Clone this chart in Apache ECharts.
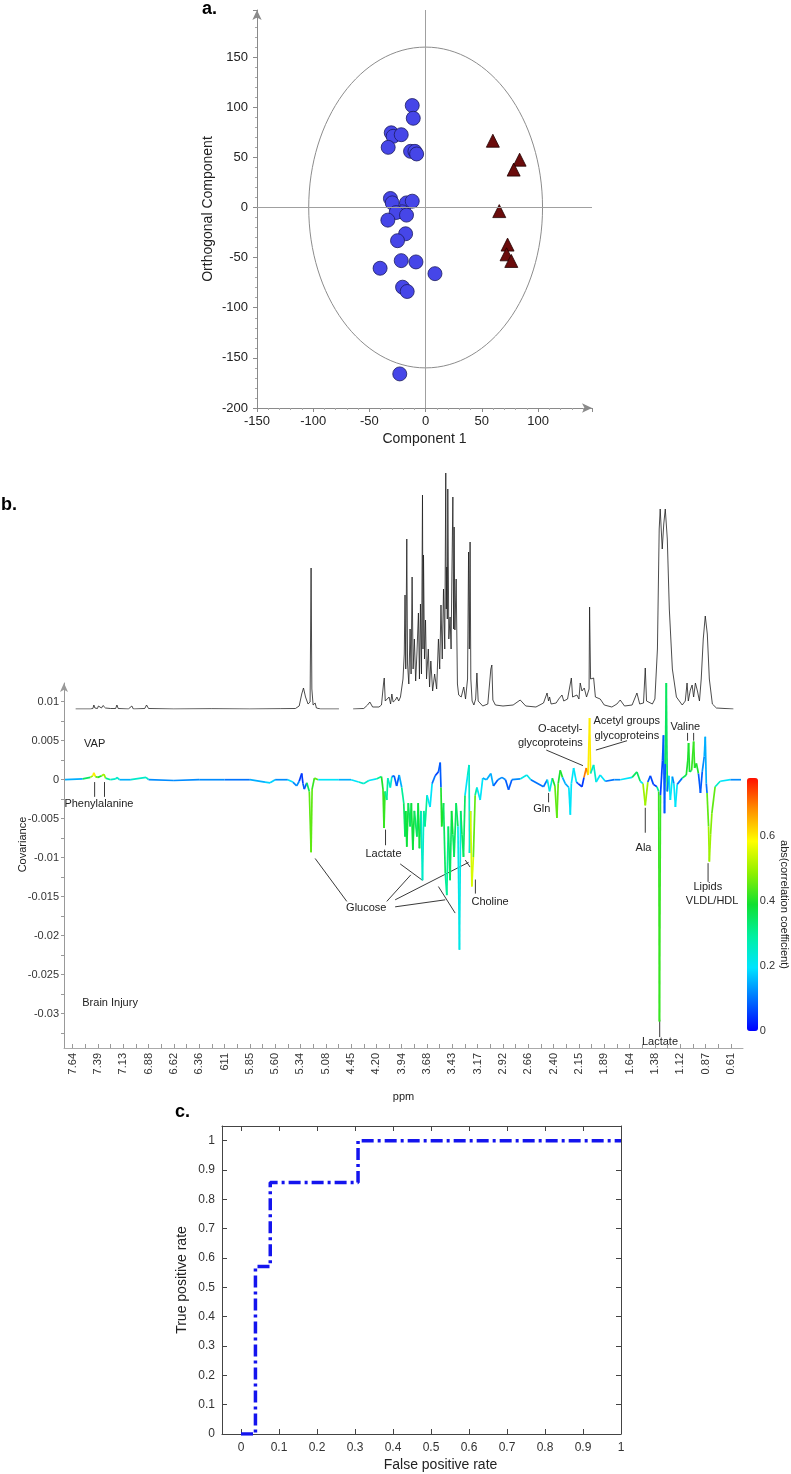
<!DOCTYPE html>
<html>
<head>
<meta charset="utf-8">
<script src="https://cdn.jsdelivr.net/npm/echarts@6/dist/echarts.min.js"></script>
<style>
  html, body { margin: 0; padding: 0; background: #fff; }
  #main { width: 791px; height: 1474px; }
</style>
</head>
<body>
<div id="main"></div>
<script>
const FONT = '"Liberation Sans", Arial, sans-serif';

// ---- a. scores plot ----
const circleScores = [
  [-11.9, 101.7], [-11, 89], [-30.6, 74.5], [-28.9, 71], [-21.7, 72.6], [-33.3, 60],
  [-13.4, 56], [-9.5, 56], [-8, 53.4], [-31.3, 9], [-29.7, 4.6], [-17, 4.6], [-11.9, 6.3],
  [-20.8, -4.3], [-26.2, -5], [-17, -7.6], [-33.6, -12.6], [-17.8, -26.2], [-25, -33.1],
  [-21.7, -53], [-8.6, -54.3], [-40.5, -60.6], [8.3, -66], [-20.5, -79.5], [-16.4, -83.8],
  [-23, -166]
];
const triangleScores = [
  [59.8, 66.6], [83.6, 47.7], [78.3, 37.8], [65.5, -3.6], [72.9, -37], [72, -46.7], [76.2, -53.3]
];
const confEllipse = [[0, 0, 104, 160]]; // centre x, centre y, radius x, radius y

// ---- b. spectrum + covariance (x = position along the ppm axis, one step per label) ----
const ppmLabels = ['7.64', '7.39', '7.13', '6.88', '6.62', '6.36', '611', '5.85', '5.60', '5.34',
  '5.08', '4.45', '4.20', '3.94', '3.68', '3.43', '3.17', '2.92', '2.66', '2.40', '2.15',
  '1.89', '1.64', '1.38', '1.12', '0.87', '0.61'];
const ppmLabelPos = [0, 1, 2, 3, 4, 5, 6, 7, 8, 9, 10, 11, 12, 13, 14, 15, 16, 17, 18, 19, 20, 21, 22, 23, 24, 25, 26];
const ppmTickPos = [0, 0.5, 1, 1.5, 2, 2.5, 3, 3.5, 4, 4.5, 5, 5.5, 6, 6.5, 7, 7.5, 8, 8.5, 9, 9.5,
  10, 10.5, 11, 11.5, 12, 12.5, 13, 13.5, 14, 14.5, 15, 15.5, 16, 16.5, 17, 17.5, 18, 18.5, 19,
  19.5, 20, 20.5, 21, 21.5, 22, 22.5, 23, 23.5, 24, 24.5, 25, 25.5, 26];
const covLabels = [0.01, 0.005, 0, -0.005, -0.01, -0.015, -0.02, -0.025, -0.03];
const covTicks = [0.01, 0.0075, 0.005, 0.0025, 0, -0.0025, -0.005, -0.0075, -0.01, -0.0125, -0.015,
  -0.0175, -0.02, -0.0225, -0.025, -0.0275, -0.03, -0.0325];
const corrLabels = [0, 0.2, 0.4, 0.6];

// mean spectrum, [position, intensity a.u.]
const nmrSpectrum = [
  [0.12, 0], [0.7, 0], [0.8, 0.5], [0.84, 4], [0.88, 1], [0.98, 0.5], [1.02, 3], [1.06, 1.5], [1.14, 1],
  [1.2, 3.5], [1.24, 4.5], [1.3, 1], [1.5, 0.5], [1.7, 0.5], [1.75, 4], [1.8, 0.5], [2.2, 0], [2.34, 3],
  [2.4, 0], [2.85, 0.5], [2.92, 4], [2.96, 5], [3.0, 0.5], [4.0, 0], [5.5, 0.3], [7.0, 0], [8.2, 0.3],
  [8.8, 0.5], [8.95, 3], [9.05, 15], [9.12, 21], [9.2, 12], [9.3, 5], [9.38, 7], [9.42, 141], [9.45, 20],
  [9.5, 4], [9.58, 6], [9.63, 1], [9.8, 0], [10.52, 0], [10.6, '-'], [11.08, 0], [11.5, 0.5], [11.65, 4],
  [11.74, 7], [11.85, 2], [12.1, 2], [12.2, 4], [12.28, 25], [12.31, 31], [12.35, 8], [12.41, 6],
  [12.5, 12], [12.56, 5], [12.61, 15], [12.66, 7], [12.75, 9], [12.81, 12], [12.88, 8], [12.95, 12],
  [13.0, 11], [13.05, 30], [13.1, 55], [13.13, 114], [13.16, 40], [13.2, 170], [13.23, 45], [13.28, 25],
  [13.33, 80], [13.37, 35], [13.41, 132], [13.45, 40], [13.5, 70], [13.55, 28], [13.6, 55], [13.66, 96],
  [13.7, 30], [13.74, 105], [13.78, 35], [13.82, 214], [13.84, 60], [13.86, 154], [13.9, 50], [13.94, 89],
  [13.98, 30], [14.05, 60], [14.1, 22], [14.15, 48], [14.22, 18], [14.3, 35], [14.38, 20], [14.45, 70],
  [14.5, 40], [14.55, 104], [14.6, 50], [14.65, 120], [14.7, 60], [14.74, 236], [14.76, 100], [14.78, 142],
  [14.8, 90], [14.82, 220], [14.86, 70], [14.91, 92], [14.95, 60], [14.98, 130], [15.02, 212], [15.05, 80],
  [15.07, 182], [15.1, 79], [15.15, 130], [15.2, 25], [15.25, 14], [15.35, 12], [15.45, 22], [15.52, 10],
  [15.6, 30], [15.64, 157], [15.67, 60], [15.7, 167], [15.73, 30], [15.78, 8], [15.85, 4], [15.92, 10],
  [15.97, 36], [16.02, 8], [16.2, 3], [16.4, 5], [16.52, 40], [16.56, 44], [16.6, 9], [16.7, 4], [17.0, 3],
  [17.4, 4], [17.68, 9], [17.9, 3], [18.3, 2], [18.6, 6], [18.74, 16], [18.8, 8], [18.84, 12], [18.9, 5],
  [19.1, 6], [19.2, 10], [19.33, 14], [19.4, 8], [19.55, 10], [19.7, 31], [19.75, 12], [19.92, 14],
  [20.0, 10], [20.05, 26], [20.12, 18], [20.21, 21], [20.3, 12], [20.4, 20], [20.42, 102], [20.46, 30],
  [20.58, 31], [20.65, 12], [20.84, 10], [21.0, 4], [21.3, 2], [21.5, 5], [21.63, 9], [21.8, 3], [22.1, 4],
  [22.29, 16], [22.4, 5], [22.55, 6], [22.62, 41], [22.67, 8], [22.9, 5], [23.0, 10], [23.1, 60],
  [23.17, 180], [23.21, 200], [23.29, 160], [23.35, 185], [23.41, 200], [23.49, 170], [23.57, 100],
  [23.69, 40], [23.85, 12], [24.08, 4], [24.2, 8], [24.27, 26], [24.32, 8], [24.4, 19], [24.47, 24],
  [24.53, 12], [24.6, 26], [24.68, 18], [24.76, 8], [24.83, 30], [24.91, 70], [24.99, 93], [25.07, 75],
  [25.15, 30], [25.27, 5], [25.43, 1], [26.1, 0]
];

// covariance, [position, covariance, abs(correlation)]
const covariance = [
  [-0.3, 0, 0.12], [0.4, 0.0001, 0.15], [0.7, 0.0003, 0.35], [0.8, 0.0005, 0.5], [0.84, 0.0009, 0.6],
  [0.9, 0.0004, 0.45], [1.0, 0.0003, 0.35], [1.15, 0.0005, 0.4], [1.24, 0.0007, 0.5], [1.3, 0.0002, 0.3],
  [1.5, 0, 0.2], [1.7, 0.0001, 0.25], [1.75, 0.0003, 0.25], [1.85, 0, 0.15], [2.3, 0, 0.12],
  [2.9, 0.0003, 0.25], [3.0, 0, 0.15], [4.0, -0.0001, 0.12], [5.0, 0, 0.12], [6.0, 0, 0.1], [7.0, 0, 0.1],
  [7.6, -0.0003, 0.15], [7.8, -0.0004, 0.18], [8.0, 0, 0.12], [8.5, 0, 0.1], [8.7, -0.0003, 0.2],
  [8.85, -0.0008, 0.12], [8.95, -0.0002, 0.08], [9.05, 0.0008, 0.05], [9.1, -0.0005, 0.05],
  [9.15, -0.0012, 0.08], [9.25, -0.0004, 0.2], [9.35, -0.0015, 0.35], [9.42, -0.0093, 0.45],
  [9.46, -0.0012, 0.42], [9.55, 0.0002, 0.45], [9.7, 0, 0.2], [10.5, 0, 0.15], [11.0, 0, 0.15],
  [11.3, -0.0003, 0.2], [11.5, -0.0005, 0.25], [11.7, -0.0001, 0.2], [12.0, 0.0001, 0.2],
  [12.2, 0.0004, 0.3], [12.26, -0.0012, 0.4], [12.3, -0.0062, 0.42], [12.34, -0.0015, 0.4],
  [12.41, -0.0026, 0.3], [12.45, 0.0002, 0.15], [12.55, -0.001, 0.25], [12.61, 0.0004, 0.2],
  [12.7, 0.0005, 0.1], [12.8, -0.0008, 0.08], [12.9, 0.0006, 0.1], [13.0, -0.001, 0.15],
  [13.08, -0.003, 0.3], [13.13, -0.0073, 0.35], [13.16, -0.004, 0.3], [13.2, -0.0086, 0.38],
  [13.26, -0.003, 0.3], [13.33, -0.006, 0.35], [13.38, -0.003, 0.3], [13.44, -0.009, 0.38],
  [13.5, -0.004, 0.3], [13.6, -0.0073, 0.35], [13.65, -0.003, 0.2], [13.7, -0.0088, 0.38],
  [13.76, -0.004, 0.25], [13.82, -0.0129, 0.25], [13.87, -0.004, 0.2], [13.92, -0.006, 0.3],
  [14.0, -0.002, 0.15], [14.12, -0.0035, 0.2], [14.2, -0.0005, 0.1], [14.32, 0.0005, 0.06],
  [14.45, 0.001, 0.06], [14.52, 0.0022, 0.08], [14.55, -0.001, 0.2], [14.58, -0.006, 0.4],
  [14.65, -0.003, 0.35], [14.72, -0.012, 0.35], [14.78, -0.0148, 0.3], [14.84, -0.006, 0.35],
  [14.91, -0.0129, 0.35], [14.97, -0.004, 0.3], [15.02, -0.007, 0.38], [15.07, -0.0099, 0.35],
  [15.15, -0.003, 0.3], [15.22, -0.006, 0.35], [15.28, -0.0218, 0.22], [15.33, -0.004, 0.3],
  [15.38, -0.007, 0.35], [15.44, -0.0099, 0.35], [15.5, -0.002, 0.2], [15.6, 0.0005, 0.15],
  [15.66, 0.0019, 0.25], [15.68, -0.0094, 0.25], [15.72, -0.004, 0.3], [15.77, -0.0137, 0.55],
  [15.83, -0.0099, 0.45], [15.9, -0.002, 0.3], [15.97, -0.001, 0.25], [16.1, -0.0026, 0.2],
  [16.2, 0.0002, 0.15], [16.35, 0, 0.15], [16.52, 0.0008, 0.15], [16.62, -0.0008, 0.08], [16.8, 0, 0.1],
  [16.96, 0.0003, 0.12], [17.1, 0, 0.1], [17.22, -0.0013, 0.08], [17.35, 0, 0.1], [17.68, 0.0001, 0.12],
  [17.94, 0.0006, 0.22], [18.1, 0, 0.12], [18.6, -0.0009, 0.1], [18.75, 0, 0.15], [18.84, -0.0015, 0.22],
  [18.95, 0.0002, 0.3], [19.05, -0.0008, 0.4], [19.13, -0.0049, 0.45], [19.18, -0.0005, 0.4],
  [19.26, 0.0012, 0.4], [19.35, 0.0003, 0.3], [19.46, -0.0005, 0.15], [19.6, -0.001, 0.15],
  [19.66, -0.0045, 0.2], [19.7, -0.0005, 0.2], [19.79, 0.0015, 0.2], [19.9, -0.0003, 0.1],
  [19.97, -0.0005, 0.08], [20.12, -0.0009, 0.05], [20.2, 0.0003, 0.4], [20.29, 0.0015, 0.7],
  [20.36, 0.0006, 0.6], [20.42, 0.0079, 0.6], [20.46, 0.0008, 0.5], [20.58, 0.0019, 0.25],
  [20.68, -0.0003, 0.1], [20.84, 0.0006, 0.2], [21.04, -0.0002, 0.1], [21.4, 0, 0.12], [21.63, 0, 0.1],
  [22.1, 0.0003, 0.2], [22.29, 0.001, 0.35], [22.42, -0.0002, 0.1], [22.53, -0.0005, 0.2],
  [22.62, -0.0033, 0.5], [22.72, -0.0003, 0.3], [22.82, 0.0005, 0.08], [22.94, -0.0006, 0.06],
  [23.08, -0.0009, 0.05], [23.15, -0.0015, 0.3], [23.18, -0.031, 0.42], [23.22, -0.002, 0.1],
  [23.3, 0.0025, 0.06], [23.34, 0.0057, 0.08], [23.38, -0.0043, 0.08], [23.41, 0.002, 0.1],
  [23.45, 0.0124, 0.35], [23.49, -0.0015, 0.1], [23.55, 0.0005, 0.12], [23.61, -0.0026, 0.2],
  [23.69, 0.0004, 0.1], [23.75, -0.0005, 0.12], [23.81, -0.0035, 0.2], [23.88, -0.0006, 0.1],
  [24.08, 0.0002, 0.2], [24.24, 0.0006, 0.35], [24.3, 0.0025, 0.4], [24.33, 0.0047, 0.4],
  [24.37, 0.001, 0.3], [24.45, 0.0012, 0.35], [24.53, 0.0049, 0.42], [24.57, 0.0015, 0.4],
  [24.64, 0.0021, 0.4], [24.72, 0.0008, 0.2], [24.8, -0.0017, 0.08], [24.87, 0.001, 0.08],
  [24.95, 0.003, 0.12], [24.99, 0.0055, 0.15], [25.03, -0.0005, 0.1], [25.06, -0.0017, 0.1],
  [25.12, -0.006, 0.45], [25.15, -0.0105, 0.5], [25.2, -0.007, 0.48], [25.25, -0.0043, 0.45],
  [25.38, -0.0009, 0.25], [25.58, -0.0002, 0.2], [25.98, 0, 0.12], [26.4, 0, 0.12]
];

// annotations of panel b, [position, covariance, text]
const peakLabels = [
  [0.87, 0.0046, 'VAP'], [1.48, -0.0286, 'Brain Injury'], [1.04, -0.0031, 'Phenylalanine'],
  [19.26, 0.0065, 'O-acetyl-'], [18.87, 0.0047, 'glycoproteins'],
  [21.89, 0.0075, 'Acetyl groups'], [21.89, 0.0056, 'glycoproteins'],
  [24.2, 0.0068, 'Valine'], [18.53, -0.0038, 'Gln'], [22.55, -0.0088, 'Ala'],
  [25.09, -0.0137, 'Lipids'], [25.26, -0.0156, 'VLDL/HDL'], [23.2, -0.0336, 'Lactate'],
  [12.28, -0.0095, 'Lactate'], [11.6, -0.0165, 'Glucose'], [16.49, -0.0157, 'Choline']
];
const leaderLines = [
  [0.87, -0.0003, 0.87, -0.0022], [1.26, -0.0003, 1.26, -0.0022],
  [18.71, 0.0038, 20.16, 0.0018], [20.67, 0.0038, 21.9, 0.005],
  [24.29, 0.006, 24.29, 0.005], [24.53, 0.006, 24.53, 0.005],
  [18.8, -0.0017, 18.8, -0.0029], [22.62, -0.0036, 22.62, -0.0068],
  [25.1, -0.0107, 25.1, -0.0131], [23.19, -0.0308, 23.19, -0.033],
  [12.36, -0.0064, 12.36, -0.0084], [15.91, -0.0128, 15.91, -0.0146],
  [9.58, -0.0101, 10.83, -0.0156], [12.41, -0.0156, 13.36, -0.0122],
  [12.94, -0.0108, 13.82, -0.0129], [12.74, -0.0154, 15.64, -0.0106],
  [15.51, -0.0103, 15.7, -0.0112], [12.74, -0.0163, 14.72, -0.0154],
  [14.45, -0.0137, 15.11, -0.0171]
];

// ---- c. ROC curve ----
const rocFpr = [0, 0.038, 0.077, 0.308, 1];
const rocTpr = [0, 0.571, 0.857, 1, 1];
const rocTicks = [0, 0.1, 0.2, 0.3, 0.4, 0.5, 0.6, 0.7, 0.8, 0.9, 1];

// segments of the covariance trace, coloured by the stronger end
const covSegments = [];
for (let i = 0; i < covariance.length - 1; i++) {
  const a = covariance[i], b = covariance[i + 1];
  const c = Math.abs(a[1]) >= Math.abs(b[1]) ? a[2] : b[2];
  covSegments.push([a[0], a[1], b[0], b[1], c]);
}

const grey = '#8a8a8a';
const hidden = { show: false };

const option = {
  animation: false,
  textStyle: { fontFamily: FONT },
  grid: [
    { left: 257, top: 10, width: 335, height: 398 },          // a
    { left: 64, right: 48, top: 683, bottom: 426 },          // b covariance
    { left: 64, right: 48, top: 470, bottom: 765 },          // b spectrum
    { left: 747, top: 778, width: 11, height: 253 },         // b colour bar scale
    { left: 222, top: 1126, width: 399, height: 308 }        // c
  ],
  xAxis: [
    {
      gridIndex: 0, type: 'value', min: -150, max: 148, interval: 50,
      axisLine: { onZero: false, lineStyle: { color: grey }, symbol: ['none', 'arrow'], symbolSize: [7, 10] },
      axisTick: { length: 4, lineStyle: { color: grey } },
      minorTick: { show: true, splitNumber: 5, length: 2, lineStyle: { color: '#aaa' } },
      axisLabel: { showMaxLabel: false, color: '#222', fontSize: 13, margin: 7 },
      splitLine: hidden,
      name: 'Component 1', nameLocation: 'middle', nameGap: 24,
      nameTextStyle: { color: '#222', fontSize: 14 }
    },
    {
      gridIndex: 1, type: 'value', min: -0.34, max: 26.48,
      axisLine: { onZero: false, lineStyle: { color: '#aaa' } },
      axisTick: { inside: true, length: 4, customValues: ppmTickPos, lineStyle: { color: '#999' } },
      axisLabel: {
        customValues: ppmLabelPos, rotate: 90, fontSize: 11, color: '#333', margin: 5,
        formatter: v => ppmLabels[Math.round(v)]
      },
      splitLine: hidden,
      name: 'ppm', nameLocation: 'middle', nameGap: 43,
      nameTextStyle: { color: '#222', fontSize: 11 }
    },
    { gridIndex: 2, type: 'value', min: -0.34, max: 26.48, show: false, splitLine: hidden },
    { gridIndex: 3, type: 'value', min: 0, max: 1, show: false, splitLine: hidden },
    {
      gridIndex: 4, type: 'value', min: -0.05, max: 1, position: 'bottom',
      axisLine: { onZero: false, lineStyle: { color: '#444' } },
      axisTick: { inside: true, length: 5, customValues: rocTicks, lineStyle: { color: '#444' } },
      axisLabel: { customValues: rocTicks, color: '#333', fontSize: 12, margin: 8, formatter: v => String(+v.toFixed(1)) },
      splitLine: hidden,
      name: 'False positive rate', nameLocation: 'middle', nameGap: 24,
      nameTextStyle: { color: '#222', fontSize: 14, padding: [0, 0, 0, 38] }
    },
    {
      gridIndex: 4, type: 'value', min: -0.05, max: 1, position: 'top',
      axisLine: { onZero: false, lineStyle: { color: '#444' } },
      axisTick: { inside: true, length: 5, customValues: rocTicks, lineStyle: { color: '#444' } },
      axisLabel: hidden, splitLine: hidden
    }
  ],
  yAxis: [
    {
      gridIndex: 0, type: 'value', min: -200, max: 197, interval: 50,
      axisLine: { show: true, onZero: false, lineStyle: { color: grey }, symbol: ['none', 'arrow'], symbolSize: [7, 10] },
      axisTick: { show: true, length: 4, lineStyle: { color: grey } },
      minorTick: { show: true, splitNumber: 5, length: 2, lineStyle: { color: '#aaa' } },
      axisLabel: { showMaxLabel: false, color: '#222', fontSize: 13, margin: 9 },
      splitLine: hidden,
      name: 'Orthogonal Component', nameLocation: 'middle', nameGap: 42,
      nameTextStyle: { color: '#222', fontSize: 14 }
    },
    {
      gridIndex: 1, type: 'value', min: -0.0344, max: 0.0124,
      axisLine: { show: true, onZero: false, lineStyle: { color: '#999' }, symbol: ['none', 'arrow'], symbolSize: [6, 9] },
      axisTick: { show: true, length: 3, customValues: covTicks, lineStyle: { color: '#999' } },
      axisLabel: { customValues: covLabels, color: '#333', fontSize: 11, margin: 5, formatter: v => String(v) },
      splitLine: hidden,
      name: 'Covariance', nameLocation: 'middle', nameGap: 36, nameMoveOverlap: false,
      nameTextStyle: { color: '#222', fontSize: 11, padding: [0, 0, 0, 42] }
    },
    { gridIndex: 2, type: 'value', min: 0, max: 239, show: false, splitLine: hidden },
    {
      gridIndex: 3, type: 'value', min: 0, max: 0.78, position: 'right',
      axisLine: hidden, axisTick: hidden, splitLine: hidden,
      axisLabel: { customValues: corrLabels, color: '#333', fontSize: 11, margin: 4, formatter: v => String(v) },
      name: 'abs(correlation coefficient)', nameLocation: 'middle', nameRotate: -90, nameGap: 20,
      nameTextStyle: { color: '#222', fontSize: 11 }
    },
    {
      gridIndex: 4, type: 'value', min: 0, max: 1.05, position: 'left',
      axisLine: { show: true, onZero: false, lineStyle: { color: '#444' } },
      axisTick: { show: true, inside: true, length: 5, customValues: rocTicks, lineStyle: { color: '#444' } },
      axisLabel: { customValues: rocTicks, color: '#333', fontSize: 12, margin: 7, formatter: v => String(+v.toFixed(1)) },
      splitLine: hidden,
      name: 'True positive rate', nameLocation: 'middle', nameGap: 33, nameMoveOverlap: false,
      nameTextStyle: { color: '#222', fontSize: 14 }
    },
    {
      gridIndex: 4, type: 'value', min: 0, max: 1.05, position: 'right',
      axisLine: { show: true, onZero: false, lineStyle: { color: '#444' } },
      axisTick: { show: true, inside: true, length: 5, customValues: rocTicks, lineStyle: { color: '#444' } },
      axisLabel: hidden, splitLine: hidden
    }
  ],
  visualMap: {
    type: 'continuous', seriesIndex: 4, dimension: 4, min: 0, max: 0.78,
    left: 747, top: 778, itemWidth: 11, itemHeight: 253, padding: 0,
    calculable: false, orient: 'vertical',
    inRange: {
      color: ['#0000ff', '#0070ff', '#00e4ff', '#00f0a0', '#10e030', '#90f000', '#ffff00', '#ff9000', '#ff1000']
    }
  },
  series: [
    {
      type: 'scatter', xAxisIndex: 0, yAxisIndex: 0, data: circleScores, symbol: 'circle', symbolSize: 14, z: 4,
      itemStyle: { color: '#4646e8', borderColor: '#1c1c60', borderWidth: 0.8, opacity: 1 },
      markLine: {
        silent: true, symbol: 'none', label: hidden,
        lineStyle: { color: '#a0a0a0', width: 1, type: 'solid' },
        data: [{ xAxis: 0 }, { yAxis: 0 }]
      }
    },
    {
      type: 'scatter', xAxisIndex: 0, yAxisIndex: 0, data: triangleScores, symbol: 'triangle', symbolSize: 13, z: 4,
      itemStyle: { color: '#6b0c0c', borderColor: '#220000', borderWidth: 0.8, opacity: 1 }
    },
    {
      type: 'custom', xAxisIndex: 0, yAxisIndex: 0, data: confEllipse, silent: true,
      renderItem: function (params, api) {
        const c = api.coord([api.value(0), api.value(1)]);
        const s = api.size([api.value(2), api.value(3)]);
        return {
          type: 'ellipse',
          shape: { cx: c[0], cy: c[1], rx: s[0], ry: s[1] },
          style: { fill: 'none', stroke: '#8c8c8c', lineWidth: 1 }
        };
      }
    },
    {
      type: 'line', xAxisIndex: 2, yAxisIndex: 2, data: nmrSpectrum, symbol: 'none',
      connectNulls: false, lineStyle: { color: '#1e1e1e', width: 0.8 }
    },
    {
      type: 'custom', xAxisIndex: 1, yAxisIndex: 1, data: covSegments, silent: true,
      dimensions: ['x0', 'y0', 'x1', 'y1', 'corr'],
      encode: { x: [0, 2], y: [1, 3] },
      renderItem: function (params, api) {
        const p0 = api.coord([api.value(0), api.value(1)]);
        const p1 = api.coord([api.value(2), api.value(3)]);
        return {
          type: 'line',
          shape: { x1: p0[0], y1: p0[1], x2: p1[0], y2: p1[1] },
          style: { stroke: api.visual('color'), lineWidth: 1.7 }
        };
      }
    },
    {
      type: 'line', xAxisIndex: 4, yAxisIndex: 4, step: 'end', symbol: 'none',
      data: rocFpr.map((f, i) => [f, rocTpr[i]]),
      lineStyle: { color: '#1414ee', width: 3.5, type: [12, 4, 3, 4] }
    }
  ]
};

const chart = echarts.init(document.getElementById('main'));
chart.setOption(option);

// annotation text and leader lines placed in the covariance axes
const toPx = (x, y) => chart.convertToPixel({ gridIndex: 1 }, [x, y]);
const graphic = [];
peakLabels.forEach(([x, y, t]) => {
  const p = toPx(x, y);
  graphic.push({
    type: 'text', x: p[0], y: p[1], silent: true,
    style: { text: t, fill: '#222', font: '11px ' + FONT, align: 'center', verticalAlign: 'middle' }
  });
});
leaderLines.forEach(([x0, y0, x1, y1]) => {
  const a = toPx(x0, y0), b = toPx(x1, y1);
  graphic.push({
    type: 'line', silent: true,
    shape: { x1: a[0], y1: a[1], x2: b[0], y2: b[1] },
    style: { stroke: '#222', lineWidth: 0.9 }
  });
});
// panel letters
[['a.', 202, 9], ['b.', 1, 505], ['c.', 175, 1112]].forEach(([t, x, y]) => {
  graphic.push({
    type: 'text', x: x, y: y, silent: true,
    style: { text: t, fill: '#000', font: 'bold 18px ' + FONT, align: 'left', verticalAlign: 'middle' }
  });
});
chart.setOption({ graphic: graphic });
</script>
</body>
</html>
